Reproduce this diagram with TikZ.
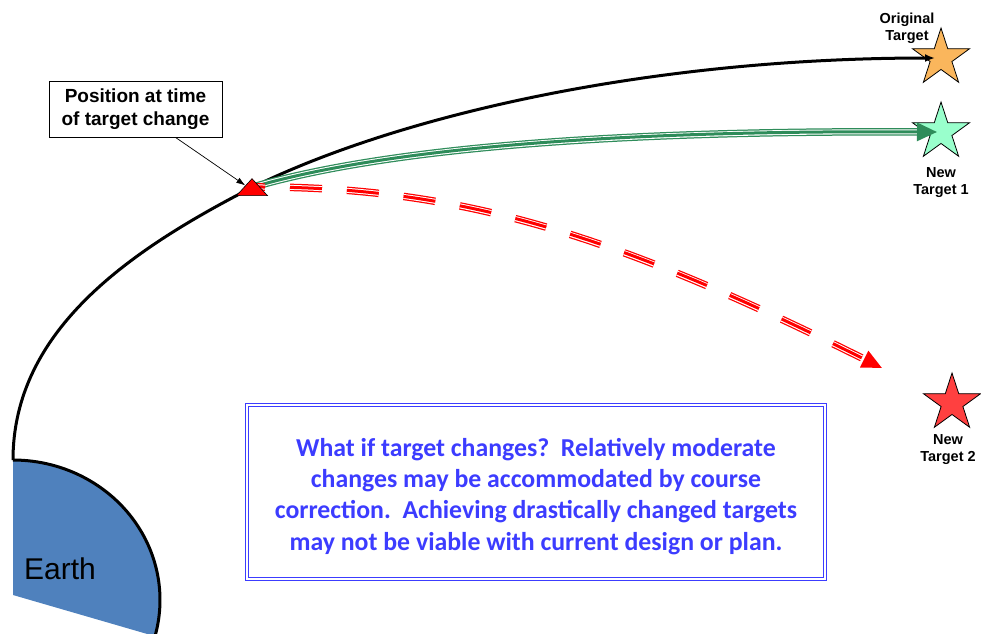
\documentclass[tikz,border=0pt]{standalone}
\usepackage{fontspec}
\setmainfont{Liberation Sans}
\newfontfamily\calibri{Carlito}
\usepackage{xcolor}
\usepackage{tikz}
\usetikzlibrary{positioning,arrows.meta,calc,shapes.geometric}

\definecolor{earthblue}{RGB}{79,129,189}
\definecolor{origorange}{RGB}{250,182,92}
\definecolor{mint}{RGB}{153,255,204}
\definecolor{starred}{RGB}{255,64,64}
\definecolor{trailgreen}{RGB}{46,140,90}
\definecolor{noteblue}{RGB}{60,60,255}

\begin{document}
\begin{tikzpicture}[
  x=1pt, y=-1pt,
  target/.style={draw, star, star points=5, star point ratio=2.618, minimum size=60pt, inner sep=0pt, line width=0.8pt},
  tlabel/.style={font=\fontsize{14.5}{17}\selectfont\bfseries, align=center, inner sep=0pt},
  callout/.style={draw, rectangle, fill=white, line width=0.8pt, minimum width=173pt, minimum height=56pt, align=center, font=\fontsize{19}{23}\selectfont\bfseries},
  note/.style={draw=noteblue, double=white, double distance=1.6pt, line width=1pt, minimum width=578pt, minimum height=174pt, align=center, text=noteblue, font=\calibri\fontsize{25.8}{31.3}\selectfont\bfseries},
  marker/.style={draw, fill=red, line width=0.6pt, regular polygon, regular polygon sides=3, minimum size=22.7pt, inner sep=0pt, xscale=1.58, transform shape},
  traj/.style={line width=3pt, -{Latex[length=10pt,width=8pt]}},
  trail/.style={draw=#1, line width=7.5pt, shorten >=12pt,
    postaction={draw=white, line width=5pt, shorten >=12pt},
    postaction={draw=#1, line width=3pt, shorten >=0pt, -{Triangle[length=20pt,width=18pt]}}},
]
  \useasboundingbox (0,0) rectangle (981,633);

  % Earth
  \fill[earthblue] (13,595) -- (13,460) arc[start angle=90, end angle=-15, x radius=147pt, y radius=140pt] -- cycle;
  \draw[line width=3pt] (13,460) arc[start angle=90, end angle=-15, x radius=147pt, y radius=140pt];
  \node[anchor=base west, inner sep=0pt, font=\fontsize{30}{34}\selectfont] (earth) at (24,579) {Earth};

  % targets
  \node[target, fill=origorange] (orig) at (941,58) {};
  \node[target, fill=mint] (new1) at (941,132) {};
  \node[target, fill=starred] (new2) at (952,403) {};
  \node[tlabel] (origlbl) at (907,28) {Original\\Target};
  \node[tlabel, below=23pt of new1] (new1lbl) {New\\Target 1};
  \node[tlabel, below=19pt of new2, xshift=-4pt] (new2lbl) {New\\Target 2};

  \coordinate (launch) at (13,460);
  \coordinate (pos) at (253,187);
  \coordinate (miss) at (882,368);

  % trajectories
  \draw[traj] (launch) .. controls (13,330) and (130,250) .. (pos)
    .. controls (400,115) and (650,58) .. ([xshift=-6pt]orig.center);
  \draw[trail=trailgreen] (pos) .. controls (380,150) and (600,130) .. ([xshift=-4pt]new1.center);
  \draw[trail=red, dash pattern=on 32pt off 25pt, dash phase=20pt] (pos) .. controls (465,186) and (622,238) .. (miss);

  \node[marker] (tri) at (252,190) {};

  % callout
  \node[callout] (lbl) at (135.5,109) {Position at time\\of target change};
  \draw[-{Latex[length=9pt,width=6pt]}, line width=0.7pt] ([xshift=40pt]lbl.south) -- (tri);

  \node[note] (note) at (536,492) {\rule{0pt}{27pt}What if target changes?\ \ Relatively moderate\\
    changes may be accommodated by course\\
    correction.\ \ Achieving drastically changed targets\\
    may not be viable with current design or plan.};
\end{tikzpicture}
\end{document}
